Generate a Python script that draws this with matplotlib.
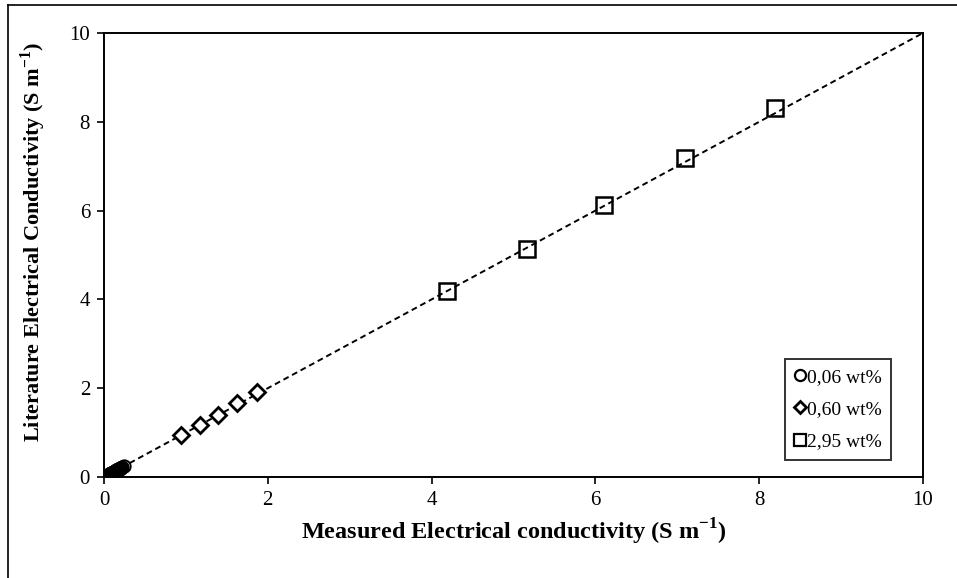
import numpy as np
import matplotlib
matplotlib.use("Agg")
import matplotlib.pyplot as plt
from matplotlib.lines import Line2D

plt.rcParams['font.family'] = ['Liberation Serif', 'DejaVu Serif']
plt.rcParams['mathtext.fontset'] = 'custom'
plt.rcParams['mathtext.rm'] = 'Liberation Serif'
plt.rcParams['mathtext.bf'] = 'Liberation Serif:bold'

# measured vs literature conductivity (S/m) for each concentration
x_006 = [0.06, 0.08, 0.09, 0.10, 0.11, 0.12, 0.13, 0.14, 0.15, 0.16, 0.17, 0.18, 0.19, 0.20, 0.21, 0.22, 0.24]
y_006 = [0.06, 0.08, 0.09, 0.10, 0.11, 0.12, 0.13, 0.14, 0.15, 0.16, 0.17, 0.18, 0.19, 0.20, 0.21, 0.22, 0.24]

x_060 = [0.94, 1.17, 1.39, 1.62, 1.87]
y_060 = [0.95, 1.17, 1.40, 1.66, 1.91]

x_295 = [4.19, 5.16, 6.10, 7.10, 8.19]
y_295 = [4.19, 5.14, 6.13, 7.18, 8.30]

labels = ["0,06 wt%", "0,60 wt%", "2,95 wt%"]

fig = plt.figure(figsize=(9.57, 5.78), dpi=100)
ax = fig.add_axes([104/957, 1 - 477/578, (923 - 104)/957, (477 - 33)/578])

# 1:1 line
ax.plot([0, 10], [0, 10], color='black', linestyle=(0, (3, 2)), linewidth=1.4, zorder=1)

ax.plot(x_006, y_006, 'o', markersize=9, markerfacecolor='none',
        markeredgecolor='black', markeredgewidth=1.3, label=labels[0], zorder=2)
ax.plot(x_060, y_060, 'D', markersize=8, markerfacecolor='white',
        markeredgecolor='black', markeredgewidth=2.0, label=labels[1], zorder=3)
ax.plot(x_295, y_295, 's', markersize=11, markerfacecolor='none',
        markeredgecolor='black', markeredgewidth=1.8, label=labels[2], zorder=3)

ax.set_xlim(0, 10)
ax.set_ylim(0, 10)
ax.set_xticks(np.arange(0, 11, 2))
ax.set_yticks(np.arange(0, 11, 2))
ax.tick_params(direction='out', length=5, width=1.2, labelsize=15, pad=5)
for s in ax.spines.values():
    s.set_linewidth(1.4)

ax.set_xlabel(r"Measured Electrical conductivity (S m$^{\mathregular{-1}}$)",
              fontsize=17.5, fontweight='bold', labelpad=5)
ax.set_ylabel(r"Literature Electrical Conductivity (S m$^{\mathregular{-1}}$)",
              fontsize=16, fontweight='bold')
ax.yaxis.set_label_coords(-0.068, 0.53)

handles = [
    Line2D([], [], marker='o', linestyle='none', markersize=8, markerfacecolor='none',
           markeredgecolor='black', markeredgewidth=1.6),
    Line2D([], [], marker='D', linestyle='none', markersize=6, markerfacecolor='none',
           markeredgecolor='black', markeredgewidth=2.0),
    Line2D([], [], marker='s', linestyle='none', markersize=9, markerfacecolor='none',
           markeredgecolor='black', markeredgewidth=1.6),
]
leg = ax.legend(handles, labels, loc='lower right', bbox_to_anchor=(0.961, 0.038),
                fontsize=14, frameon=True, fancybox=False, edgecolor='black',
                handlelength=0.5, handletextpad=0.1, labelspacing=0.75,
                borderpad=0.5, borderaxespad=0)
leg.get_frame().set_linewidth(1.4)

# outer frame (left and top edges)
fig.add_artist(Line2D([8/957, 8/957], [0, 1 - 5/578], color='black', linewidth=1.2))
fig.add_artist(Line2D([8/957, 1], [1 - 5/578, 1 - 5/578], color='black', linewidth=1.2))

fig.savefig("out.png", dpi=100)
